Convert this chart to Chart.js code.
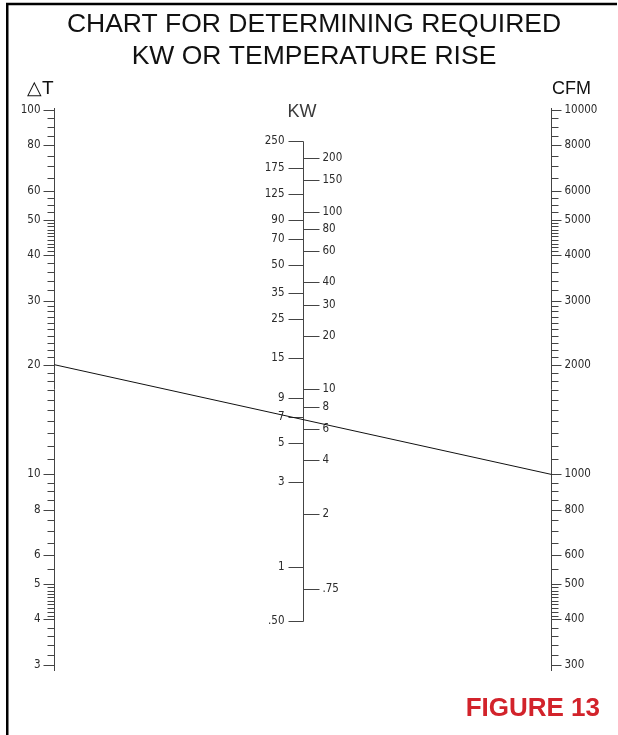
<!DOCTYPE html>
<html>
<head>
<meta charset="utf-8">
<title>Chart for determining required KW or temperature rise</title>
<script src="https://cdn.jsdelivr.net/npm/chart.js@4.4.1/dist/chart.umd.min.js"></script>
<style>
  html, body { margin: 0; padding: 0; background: #fff; }
  #nomo { display: block; }
</style>
</head>
<body>
<canvas id="nomo" width="618" height="735"></canvas>
<script>
// Delta T scale (left side)
var dtMajor = [3, 4, 5, 6, 8, 10, 20, 30, 40, 50, 60, 80, 100];
// minor tick spacing: [from, to, step]
var dtSteps = [[3, 4, 0.2], [4, 5, 0.1], [5, 10, 0.5], [10, 30, 1], [30, 40, 2], [40, 50, 1], [50, 60, 2.5], [60, 100, 5]];

// CFM scale (right side)
var cfmMajor = [300, 400, 500, 600, 800, 1000, 2000, 3000, 4000, 5000, 6000, 8000, 10000];
var cfmSteps = [[300, 400, 20], [400, 500, 10], [500, 1000, 50], [1000, 3000, 100], [3000, 4000, 200], [4000, 5000, 100], [5000, 6000, 250], [6000, 10000, 500]];

// KW scale (centre), one set of labels on each side
var kwLeft = [250, 175, 125, 90, 70, 50, 35, 25, 15, 9, 7, 5, 3, 1, 0.5];
var kwLeftLabels = ['250', '175', '125', '90', '70', '50', '35', '25', '15', '9', '7', '5', '3', '1', '.50'];
var kwRight = [200, 150, 100, 80, 60, 40, 30, 20, 10, 8, 6, 4, 2, 0.75];
var kwRightLabels = ['200', '150', '100', '80', '60', '40', '30', '20', '10', '8', '6', '4', '2', '.75'];

// the worked example line
var exampleDeltaT = 20;
var exampleCFM = 1000;

function expandSteps(ranges) {
  var out = [];
  ranges.forEach(function (r) {
    var n = Math.round((r[1] - r[0]) / r[2]);
    for (var i = 1; i < n; i++) out.push(r[0] + i * r[2]);
  });
  return out;
}
var dtMinor = expandSteps(dtSteps);
var cfmMinor = expandSteps(cfmSteps);

var tickFont = '11.5px "DejaVu Sans Condensed", "DejaVu Sans", sans-serif';
var axisColor = '#444';
var labelColor = '#2b2b2b';

function hline(ctx, x1, x2, y) {
  y = Math.round(y) + 0.5;
  ctx.beginPath();
  ctx.moveTo(x1, y);
  ctx.lineTo(x2, y);
  ctx.stroke();
}
function vline(ctx, x, y1, y2) {
  ctx.beginPath();
  ctx.moveTo(x, y1);
  ctx.lineTo(x, y2);
  ctx.stroke();
}

var nomogram = {
  id: 'nomogram',
  afterDraw: function (chart) {
    var ctx = chart.ctx;
    var sx = chart.scales.x, dt = chart.scales.dt, cfm = chart.scales.cfm, kw = chart.scales.kw;
    var xL = Math.round(sx.getPixelForValue(0)) + 0.5;
    var xM = Math.round(sx.getPixelForValue(0.5)) + 0.5;
    var xR = Math.round(sx.getPixelForValue(1)) + 0.5;

    ctx.save();

    // frame
    ctx.strokeStyle = '#000';
    ctx.lineWidth = 2.5;
    ctx.beginPath();
    ctx.moveTo(7.25, 740);
    ctx.lineTo(7.25, 4);
    ctx.lineTo(617, 4);
    ctx.stroke();

    // title
    ctx.fillStyle = '#111';
    ctx.textAlign = 'center';
    ctx.textBaseline = 'middle';
    ctx.font = '26.5px "Liberation Sans", Arial, sans-serif';
    ctx.fillText('CHART FOR DETERMINING REQUIRED', 314, 25);
    ctx.fillText('KW OR TEMPERATURE RISE', 314, 57);

    ctx.textAlign = 'left';
    ctx.font = '19px "Liberation Sans", Arial, sans-serif';
    ctx.fillText('\u25B3T', 27, 89);
    ctx.font = '18px "Liberation Sans", Arial, sans-serif';
    ctx.fillText('CFM', 552, 89);
    ctx.fillStyle = '#3a3a3a';
    ctx.textAlign = 'center';
    ctx.fillText('KW', 302, 112);

    ctx.strokeStyle = axisColor;
    ctx.lineWidth = 1;
    ctx.font = tickFont;
    ctx.fillStyle = labelColor;

    // delta T axis
    vline(ctx, xL, dt.getPixelForValue(100) - 2, dt.getPixelForValue(3) + 6);
    dtMinor.forEach(function (v) { hline(ctx, xL - 7, xL, dt.getPixelForValue(v)); });
    ctx.textAlign = 'right';
    dtMajor.forEach(function (v) {
      var y = dt.getPixelForValue(v);
      hline(ctx, xL - 11, xL, y);
      ctx.fillText(String(v), xL - 14, y);
    });

    // CFM axis
    vline(ctx, xR, cfm.getPixelForValue(10000) - 2, cfm.getPixelForValue(300) + 6);
    cfmMinor.forEach(function (v) { hline(ctx, xR, xR + 7, cfm.getPixelForValue(v)); });
    ctx.textAlign = 'left';
    cfmMajor.forEach(function (v) {
      var y = cfm.getPixelForValue(v);
      hline(ctx, xR, xR + 10, y);
      ctx.fillText(String(v), xR + 13, y);
    });

    // KW axis
    vline(ctx, xM, Math.round(kw.getPixelForValue(250)) + 0.5, Math.round(kw.getPixelForValue(0.5)) + 0.5);
    ctx.textAlign = 'right';
    kwLeft.forEach(function (v, i) {
      var y = kw.getPixelForValue(v);
      hline(ctx, xM - 15, xM, y);
      ctx.fillText(kwLeftLabels[i], xM - 19, y);
    });
    ctx.textAlign = 'left';
    kwRight.forEach(function (v, i) {
      var y = kw.getPixelForValue(v);
      hline(ctx, xM, xM + 16, y);
      ctx.fillText(kwRightLabels[i], xM + 19, y);
    });

    // example: delta T 20 with 1000 CFM
    ctx.strokeStyle = '#111';
    ctx.beginPath();
    ctx.moveTo(xL, dt.getPixelForValue(exampleDeltaT));
    ctx.lineTo(xR, cfm.getPixelForValue(exampleCFM));
    ctx.stroke();

    // figure caption
    ctx.fillStyle = '#d2232b';
    ctx.font = 'bold 26px "Liberation Sans", Arial, sans-serif';
    ctx.textAlign = 'right';
    ctx.fillText('FIGURE 13', 600, 709);

    ctx.restore();
  }
};

new Chart(document.getElementById('nomo'), {
  type: 'line',
  data: { datasets: [] },
  options: {
    responsive: false,
    animation: false,
    events: [],
    layout: { padding: { left: 54, right: 67, top: 110, bottom: 70 } },
    plugins: { legend: { display: false }, tooltip: { enabled: false } },
    scales: {
      x: { type: 'linear', min: 0, max: 1, display: false },
      dt: { type: 'logarithmic', position: 'left', min: 3, max: 100, display: false },
      cfm: { type: 'logarithmic', position: 'right', min: 300, max: 10000, display: false },
      kw: { type: 'logarithmic', position: 'left', min: 0.282, max: 373, display: false }
    }
  },
  plugins: [nomogram]
});
</script>
</body>
</html>
